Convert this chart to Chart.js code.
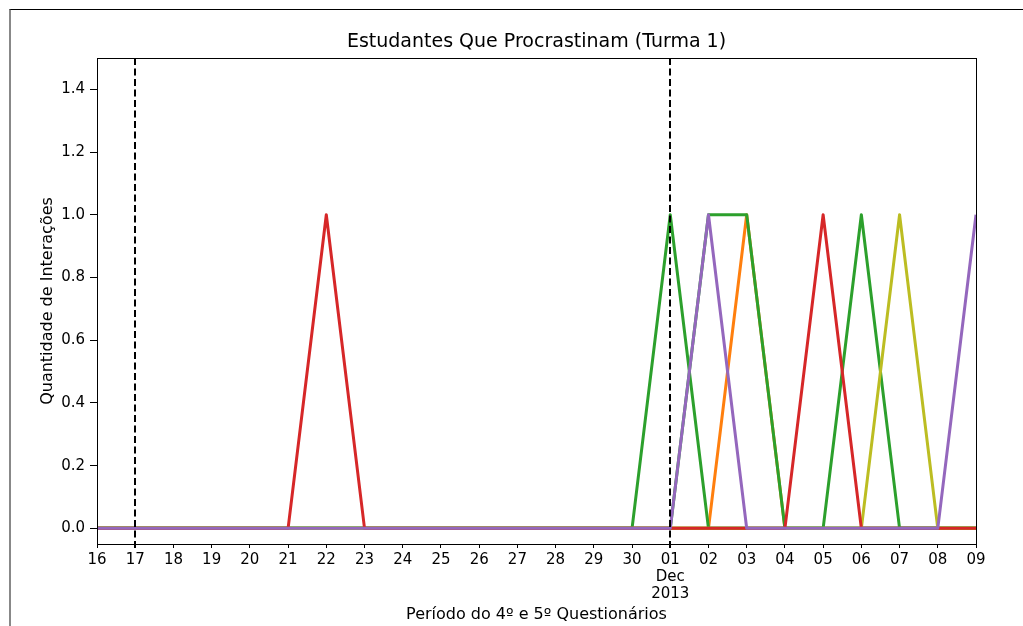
<!DOCTYPE html>
<html>
<head>
<meta charset="utf-8">
<script src="https://cdn.jsdelivr.net/npm/chart.js@4.4.1/dist/chart.umd.min.js"></script>
<style>
    html, body { margin: 0; padding: 0; background: #fff; overflow: hidden; }
    #frame {
        position: absolute; left: 9px; top: 9px; width: 1100px; height: 700px;
        border-top: 1px solid #000; border-left: 2px solid #888;
    }
    #chart { position: absolute; left: 0; top: 0; }
</style>
</head>
<body>
<div id="frame"></div>
<canvas id="chart" width="1023" height="626"></canvas>
<script>
    // Дни: 16 Nov 2013 ... 09 Dec 2013
    const dayLabels = ['16', '17', '18', '19', '20', '21', '22', '23', '24', '25', '26', '27', '28', '29', '30',
                       '01', '02', '03', '04', '05', '06', '07', '08', '09'];
    const yTicks = [0.0, 0.2, 0.4, 0.6, 0.8, 1.0, 1.2, 1.4];
    const questionDays = [1, 15]; // 17 Nov и 01 Dec

    // Серии (снизу вверх по порядку отрисовки)
    const orangeSeries = [0,0,0,0,0,0,0,0,0,0,0,0,0,0,0, 0,0,1,0,0,0,0,0,0];
    const greenA       = [0,0,0,0,0,0,0,0,0,0,0,0,0,0,0, 1,0,0,0,0,0,0,0,0];
    const greenB       = [0,0,0,0,0,0,0,0,0,0,0,0,0,0,0, 0,1,1,0,0,0,0,0,0];
    const greenC       = [0,0,0,0,0,0,0,0,0,0,0,0,0,0,0, 0,0,0,0,0,1,0,0,0];
    const oliveSeries  = [0,0,0,0,0,0,0,0,0,0,0,0,0,0,0, 0,0,0,0,0,0,1,0,0];
    const redSeries    = [0,0,0,0,0,0,1,0,0,0,0,0,0,0,0, 0,0,0,0,1,0,0,0,0];
    const purpleSeries = [0,0,0,0,0,0,0,0,0,0,0,0,0,0,0, 0,1,0,0,0,0,0,0,1];

    const seriesList = [
        { values: orangeSeries, color: '#ff7f0e' },
        { values: greenA, color: '#2ca02c' },
        { values: greenB, color: '#2ca02c' },
        { values: greenC, color: '#2ca02c' },
        { values: oliveSeries, color: '#bcbd22' },
        { values: redSeries, color: '#d62728' },
        { values: purpleSeries, color: '#9467bd' }
    ];

    const FONT = 'DejaVu Sans';

    // Рамка осей и вертикальные пунктирные линии
    const axesPlugin = {
        id: 'axesExtras',
        afterDatasetsDraw(chart) {
            const ctx = chart.ctx;
            const area = chart.chartArea;
            const xs = chart.scales.x;
            ctx.save();
            ctx.strokeStyle = '#000';
            ctx.lineWidth = 2;
            ctx.setLineDash([7, 3.5]);
            questionDays.forEach(d => {
                const px = Math.round(xs.getPixelForValue(d));
                ctx.beginPath();
                ctx.moveTo(px, area.top);
                ctx.lineTo(px, area.bottom + 6);
                ctx.stroke();
            });
            ctx.setLineDash([]);
            ctx.lineWidth = 1;
            ctx.strokeRect(area.left + 0.5, area.top + 0.5, area.right - area.left, area.bottom - area.top);
            ctx.restore();
        }
    };

    const datasets = seriesList.map((s, i) => ({
        data: s.values.map((v, idx) => ({ x: idx, y: v })),
        borderColor: s.color,
        backgroundColor: s.color,
        borderWidth: 3,
        borderJoinStyle: 'round',
        pointRadius: 0,
        tension: 0,
        fill: false,
        order: seriesList.length - i
    }));

    new Chart(document.getElementById('chart'), {
        type: 'line',
        data: { datasets: datasets },
        options: {
            responsive: false,
            animation: false,
            devicePixelRatio: 1,
            layout: { padding: { left: 0, right: 47, top: 0, bottom: 0 } },
            plugins: {
                legend: { display: false },
                tooltip: { enabled: false },
                title: {
                    display: true,
                    fullSize: false,
                    text: 'Estudantes Que Procrastinam (Turma 1)',
                    color: '#000',
                    font: { family: FONT, size: 19, weight: 'normal' },
                    padding: { top: 30.5, bottom: 4.7 }
                }
            },
            scales: {
                x: {
                    type: 'linear',
                    min: 0,
                    max: dayLabels.length - 1,
                    afterBuildTicks: scale => {
                        scale.ticks = dayLabels.map((_, i) => ({ value: i }));
                    },
                    afterFit: scale => { scale.height = 626 - 544; },
                    ticks: {
                        color: '#000',
                        padding: 4,
                        maxRotation: 0,
                        autoSkip: false,
                        font: { family: FONT, size: 15, lineHeight: 1.13 },
                        callback: value => {
                            const lbl = dayLabels[value];
                            if (value === 15) return [lbl, 'Dec', '2013'];
                            return lbl;
                        }
                    },
                    grid: { drawOnChartArea: false, drawTicks: true, tickLength: 4, color: '#000' },
                    border: { display: true, color: '#000', width: 1 },
                    title: {
                        display: true,
                        text: 'Período do 4º e 5º Questionários',
                        color: '#000',
                        font: { family: FONT, size: 16 },
                        padding: { top: 0, bottom: 2 }
                    }
                },
                y: {
                    min: -0.05,
                    max: 1.5,
                    afterBuildTicks: scale => {
                        scale.ticks = yTicks.map(v => ({ value: v }));
                    },
                    afterFit: scale => { scale.width = 97; },
                    ticks: {
                        color: '#000',
                        padding: 5,
                        font: { family: FONT, size: 15 },
                        callback: value => value.toFixed(1)
                    },
                    grid: { drawOnChartArea: false, drawTicks: true, tickLength: 7, color: '#000' },
                    border: { display: true, color: '#000', width: 1 },
                    title: {
                        display: true,
                        text: 'Quantidade de Interações',
                        color: '#000',
                        font: { family: FONT, size: 16 },
                        padding: { top: 38, bottom: 0 }
                    }
                }
            }
        },
        plugins: [axesPlugin]
    });
</script>
</body>
</html>
